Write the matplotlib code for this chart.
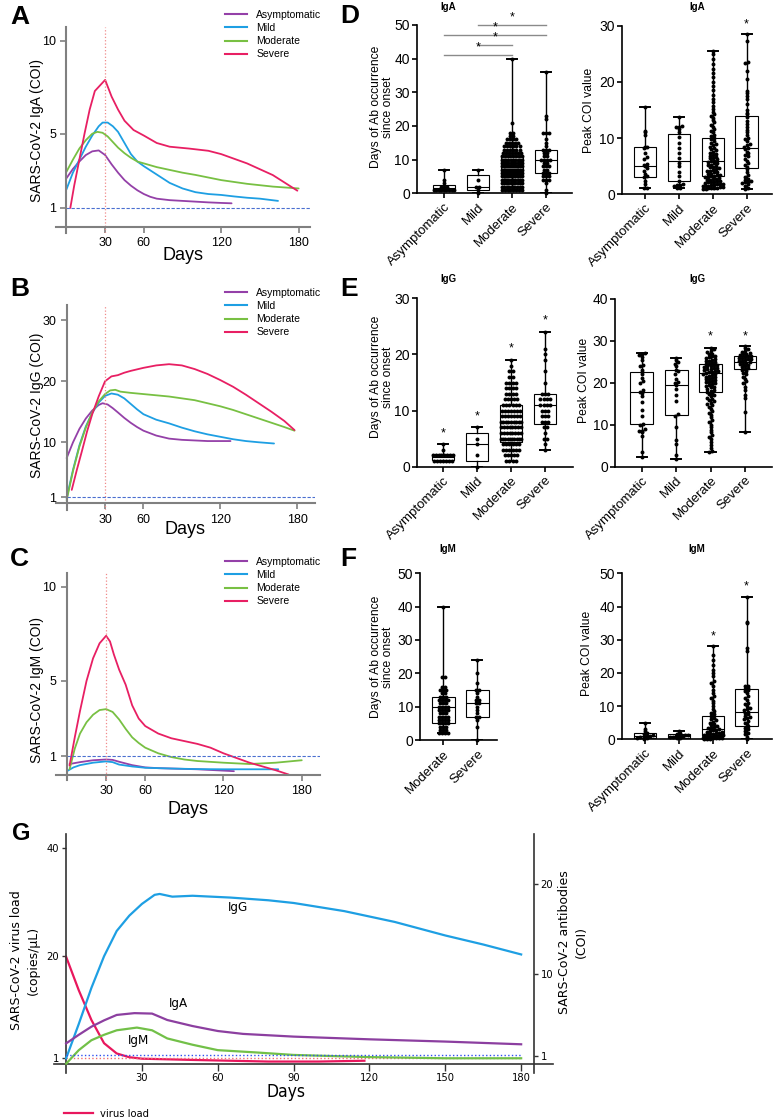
import numpy as np
import matplotlib.pyplot as plt
from matplotlib.lines import Line2D

W, H = 773, 1119
plt.rcParams['font.family'] = ['Liberation Sans', 'DejaVu Sans']

groups = ['Asymptomatic', 'Mild', 'Moderate', 'Severe']
colors = ['#9440a8', '#1e9fe3', '#78c043', '#e81f63']

# ---------------- A: IgA kinetics ----------------
iga_asym_d = [0, 5, 10, 15, 20, 25, 30, 35, 40, 45, 50, 55, 60, 65, 70, 80, 90, 100, 110, 120, 128]
iga_asym_v = [2.6, 3.1, 3.5, 3.85, 4.05, 4.1, 3.85, 3.35, 2.9, 2.5, 2.2, 1.95, 1.75, 1.6, 1.5, 1.42, 1.38, 1.34, 1.3, 1.27, 1.25]
iga_mild_d = [0, 5, 10, 15, 20, 25, 28, 32, 36, 40, 45, 50, 55, 60, 70, 80, 90, 100, 110, 120, 130, 140, 150, 164]
iga_mild_v = [2.0, 2.9, 3.6, 4.3, 4.9, 5.4, 5.6, 5.6, 5.4, 5.1, 4.5, 3.9, 3.5, 3.25, 2.8, 2.35, 2.05, 1.85, 1.75, 1.7, 1.62, 1.55, 1.5, 1.38]
iga_mod_d = [0, 5, 10, 15, 20, 24, 28, 32, 36, 40, 45, 50, 55, 60, 70, 80, 90, 100, 120, 140, 160, 180]
iga_mod_v = [2.95, 3.6, 4.2, 4.65, 5.0, 5.1, 5.05, 4.85, 4.55, 4.25, 3.95, 3.7, 3.5, 3.4, 3.2, 3.05, 2.9, 2.78, 2.5, 2.3, 2.15, 2.05]
iga_sev_d = [3, 6, 10, 14, 18, 22, 26, 30, 35, 40, 45, 52, 60, 70, 80, 95, 110, 120, 140, 160, 179]
iga_sev_v = [1.0, 2.2, 3.6, 5.0, 6.3, 7.3, 7.6, 7.9, 7.0, 6.3, 5.7, 5.2, 4.9, 4.5, 4.3, 4.2, 4.08, 3.9, 3.4, 2.77, 1.93]

# ---------------- B: IgG kinetics ----------------
igg_asym_d = [0, 5, 10, 15, 20, 25, 28, 32, 36, 40, 45, 50, 55, 60, 70, 80, 90, 100, 110, 128]
igg_asym_v = [7.4, 10.0, 12.2, 13.9, 15.2, 16.1, 16.4, 16.2, 15.6, 14.9, 14.0, 13.2, 12.5, 11.9, 11.1, 10.6, 10.4, 10.3, 10.2, 10.2]
igg_mild_d = [0, 5, 10, 15, 20, 25, 30, 35, 40, 45, 50, 55, 60, 70, 80, 90, 100, 110, 120, 130, 140, 150, 162]
igg_mild_v = [0.8, 5.5, 9.5, 12.6, 14.8, 16.5, 17.6, 18.0, 17.8, 17.2, 16.3, 15.4, 14.6, 13.7, 13.1, 12.4, 11.8, 11.3, 10.9, 10.5, 10.2, 10.0, 9.8]
igg_mod_d = [0, 5, 10, 15, 20, 25, 30, 34, 38, 42, 50, 60, 70, 80, 90, 100, 110, 120, 130, 140, 150, 160, 170, 178]
igg_mod_v = [0.5, 5.3, 9.3, 12.4, 14.9, 16.7, 17.9, 18.5, 18.6, 18.3, 18.1, 17.9, 17.7, 17.5, 17.2, 16.9, 16.4, 15.9, 15.3, 14.6, 13.9, 13.2, 12.5, 11.9]
igg_sev_d = [4, 8, 12, 16, 20, 25, 30, 35, 40, 45, 50, 60, 70, 80, 90, 100, 110, 120, 130, 140, 150, 160, 170, 178]
igg_sev_v = [2.2, 5.5, 8.6, 11.8, 14.6, 17.5, 20.0, 20.8, 21.0, 21.4, 21.7, 22.2, 22.6, 22.8, 22.6, 22.0, 21.2, 20.2, 19.1, 17.8, 16.4, 15.0, 13.5, 12.0]

# ---------------- C: IgM kinetics ----------------
igm_asym_d = [2, 10, 20, 30, 35, 40, 50, 60, 70, 80, 100, 128]
igm_asym_v = [0.58, 0.68, 0.78, 0.82, 0.8, 0.7, 0.52, 0.4, 0.36, 0.34, 0.3, 0.2]
igm_mild_d = [0, 5, 10, 20, 30, 35, 40, 50, 60, 80, 100, 120, 140, 162]
igm_mild_v = [0.2, 0.4, 0.52, 0.65, 0.72, 0.68, 0.55, 0.45, 0.38, 0.34, 0.31, 0.3, 0.3, 0.3]
igm_mod_d = [2, 6, 10, 15, 20, 25, 30, 35, 40, 45, 50, 55, 60, 70, 80, 90, 100, 120, 140, 160, 180]
igm_mod_v = [0.3, 1.4, 2.2, 2.8, 3.2, 3.45, 3.5, 3.35, 2.95, 2.45, 2.0, 1.7, 1.45, 1.15, 0.95, 0.82, 0.74, 0.65, 0.58, 0.65, 0.78]
igm_sev_d = [2, 6, 10, 15, 20, 25, 30, 33, 36, 40, 45, 50, 55, 60, 70, 80, 90, 100, 110, 120, 130, 140, 150, 160, 170]
igm_sev_v = [0.5, 2.0, 3.4, 5.0, 6.2, 7.0, 7.4, 7.1, 6.4, 5.6, 4.8, 3.7, 3.0, 2.6, 2.2, 1.95, 1.8, 1.65, 1.45, 1.15, 0.9, 0.65, 0.45, 0.25, 0.02]

# ---------------- D-F: box plot data ----------------
# stats = (min, q1, median, q3, max)
d_days_stats = [(1, 1, 1.5, 2.5, 7), (0, 1, 2, 5.3, 7), (1, 5, 7, 11, 40), (0, 6, 10, 13, 36)]
d_days_asym = np.repeat([1, 2, 3, 4, 7], [9, 3, 1, 1, 1])
d_days_mild = np.repeat([0, 1, 2, 4, 7], [1, 1, 2, 1, 1])
d_days_mod = np.repeat([1, 2, 3, 4, 5, 6, 7, 8, 9, 10, 11, 12, 13, 14, 15, 16, 17, 18, 21, 40],
                       [8, 9, 10, 10, 12, 12, 12, 11, 10, 10, 8, 7, 6, 6, 5, 4, 2, 2, 1, 1])
d_days_sev = np.repeat([0, 1, 3, 4, 5, 6, 7, 8, 9, 10, 11, 12, 13, 14, 15, 16, 18, 22, 23, 36],
                       [1, 1, 1, 3, 3, 3, 2, 3, 2, 4, 2, 2, 3, 1, 1, 1, 3, 1, 1, 1])
d_bracket_pairs = [(0, 2), (1, 2), (0, 3), (1, 3)]
d_bracket_y = [41, 44, 47, 50]

d_peak_stats = [(1.1, 3, 5.1, 8.4, 15.6), (1.1, 2.3, 6, 10.8, 13.8), (1, 3.2, 6, 10, 25.5), (1, 4.6, 8.2, 14, 28.5)]
d_peak_asym = [1.1, 1.2, 1.9, 2.4, 3.0, 3.3, 3.6, 4.2, 4.6, 5.0, 5.2, 5.4, 6.3, 6.6, 7.3, 8.3, 8.4, 8.5, 10.6, 11.0, 11.3, 15.6]
d_peak_mild = [1.1, 1.2, 1.5, 1.6, 1.7, 1.9, 2.3, 3.3, 4.0, 5.1, 5.6, 6.5, 7.3, 8.2, 9.2, 10.2, 11.0, 11.6, 11.9, 12.0, 12.1, 13.8]
d_peak_mod = [1.0, 1.0, 1.1, 1.1, 1.2, 1.2, 1.3, 1.3, 1.4, 1.5, 1.5, 1.6, 1.7, 1.8, 1.8, 1.9, 2.0, 2.1, 2.2, 2.2,
              2.3, 2.4, 2.5, 2.6, 2.7, 2.8, 2.9, 3.0, 3.1, 3.2, 3.3, 3.4, 3.5, 3.6, 3.7, 3.9, 4.0, 4.1, 4.2, 4.4,
              4.5, 4.6, 4.8, 4.9, 5.0, 5.2, 5.3, 5.5, 5.6, 5.8, 5.9, 6.0, 6.2, 6.4, 6.5, 6.7, 6.9, 7.0, 7.2, 7.4,
              7.6, 7.8, 8.0, 8.2, 8.5, 8.7, 9.0, 9.2, 9.5, 9.8, 10.0, 10.3, 10.6, 11.0, 11.3, 11.7, 12.0, 12.4,
              12.8, 13.2, 13.6, 14.0, 14.3, 14.7, 15.2, 15.8, 16.4, 17.0, 17.7, 18.5, 19.2, 20.0, 20.8, 21.5,
              22.3, 23.2, 24.0, 25.0, 25.5]
d_peak_sev = [1.0, 1.2, 1.5, 1.8, 2.0, 2.1, 2.2, 2.3, 2.5, 2.8, 3.0, 3.5, 4.0, 4.5, 4.8, 5.2, 5.5, 6.0, 6.3, 6.8,
              7.0, 7.3, 7.6, 8.0, 8.2, 8.5, 8.8, 9.0, 9.5, 9.8, 10.0, 10.5, 11.0, 11.5, 12.0, 12.5, 13.0, 13.8,
              14.2, 14.5, 15.0, 16.0, 17.0, 17.5, 18.0, 18.3, 20.5, 22.0, 23.3, 23.6, 27.2, 28.5]

e_days_stats = [(1, 1.2, 1.8, 2.2, 4), (0, 1.1, 4, 6, 7), (1, 4.4, 7, 11, 19), (3, 7.6, 11, 13, 24)]
e_days_asym = np.repeat([1, 2, 3, 4], [7, 8, 1, 1])
e_days_mild = np.repeat([0, 2, 4, 5, 7], [1, 1, 1, 1, 1])
e_days_mod = np.repeat(list(range(1, 20)), [4, 5, 6, 6, 10, 8, 8, 9, 7, 7, 6, 5, 4, 4, 4, 2, 2, 1, 1])
e_days_sev = np.repeat([3, 4, 5, 6, 7, 8, 9, 10, 11, 12, 13, 15, 17, 19, 20, 21, 24],
                       [1, 1, 2, 1, 2, 3, 3, 3, 4, 4, 3, 1, 1, 1, 1, 1, 1])
e_days_stars = [6, 9, 21, 26]

e_peak_stats = [(2.4, 10.1, 17.8, 22.7, 27.2), (1.9, 12.4, 19.6, 23.1, 25.9), (3.5, 17.8, 22.3, 24.4, 28.3), (8.2, 23.2, 25, 26.5, 28.8)]
e_peak_asym = [2.4, 3.6, 7.3, 8.2, 8.4, 8.6, 9.0, 10.0, 10.2, 12.0, 13.5, 15.5, 16.8, 17.6, 17.9, 18.3, 20.0, 20.4,
               21.2, 22.0, 22.7, 23.0, 24.0, 24.3, 25.4, 26.1, 26.6, 27.0, 27.2]
e_peak_mild = [1.9, 2.7, 5.5, 6.3, 9.5, 12.2, 12.6, 15.7, 17.0, 18.5, 19.6, 20.0, 20.2, 21.0, 22.2, 22.8, 23.1, 24.0,
               24.5, 25.0, 25.5, 25.9]
e_peak_mod = [3.5, 3.8, 4.5, 5.2, 5.8, 6.5, 7.0, 7.6, 8.2, 8.8, 9.5, 10.0, 10.6, 11.2, 11.8, 12.3, 12.8, 13.3, 13.8,
              14.2, 14.6, 15.0, 15.3, 15.6, 15.9, 16.2, 16.5, 16.8, 17.0, 17.3, 17.6, 17.9, 18.1, 18.4, 18.6, 18.9,
              19.1, 19.3, 19.5, 19.7, 19.9, 20.1, 20.3, 20.5, 20.7, 20.9, 21.0, 21.2, 21.4, 21.5, 21.7, 21.9, 22.0,
              22.2, 22.3, 22.5, 22.6, 22.8, 22.9, 23.0, 23.2, 23.3, 23.5, 23.6, 23.8, 23.9, 24.0, 24.2, 24.3, 24.5,
              24.6, 24.8, 25.0, 25.1, 25.3, 25.5, 25.7, 25.9, 26.1, 26.3, 26.5, 26.8, 27.0, 27.3, 27.6, 28.0, 28.3]
e_peak_sev = [8.2, 13.1, 16.3, 17.0, 18.2, 19.0, 20.0, 20.5, 21.0, 21.5, 22.0, 22.3, 22.8, 23.0, 23.3, 23.5, 23.8,
              24.0, 24.2, 24.4, 24.6, 24.8, 25.0, 25.1, 25.3, 25.4, 25.6, 25.7, 25.9, 26.0, 26.2, 26.3, 26.5, 26.6,
              26.8, 27.0, 27.2, 27.4, 27.7, 28.0, 28.4, 28.8]
e_peak_stars = [None, None, 31, 31]

f_days_groups = ['Moderate', 'Severe']
f_days_stats = [(2, 5, 10, 13, 40), (0, 7, 11, 15, 24)]
f_days_mod = np.repeat([2, 3, 4, 5, 6, 7, 8, 9, 10, 11, 12, 13, 14, 15, 16, 19, 40],
                       [4, 3, 3, 4, 4, 4, 3, 4, 4, 3, 4, 3, 2, 3, 2, 2, 1])
f_days_sev = np.repeat([0, 4, 6, 7, 8, 9, 10, 11, 12, 13, 14, 15, 17, 20, 24],
                       [1, 1, 1, 2, 1, 1, 1, 2, 2, 1, 1, 2, 1, 1, 1])

f_peak_stats = [(0.2, 0.5, 1, 1.8, 4.8), (0.3, 0.5, 1, 1.5, 2.6), (0.1, 0.9, 3.2, 7, 28), (0.2, 3.9, 8.3, 15.2, 43)]
f_peak_asym = [0.2, 0.3, 0.5, 0.6, 0.8, 1.0, 1.1, 1.3, 1.5, 1.8, 2.5, 3.2, 4.8]
f_peak_mild = [0.3, 0.4, 0.6, 0.8, 0.9, 1.0, 1.1, 1.2, 1.3, 1.5, 2.0, 2.6]
f_peak_mod = [0.1, 0.2, 0.2, 0.3, 0.3, 0.4, 0.4, 0.5, 0.5, 0.6, 0.6, 0.7, 0.8, 0.8, 0.9, 1.0, 1.0, 1.1, 1.2, 1.3,
              1.4, 1.5, 1.6, 1.7, 1.8, 2.0, 2.1, 2.3, 2.5, 2.7, 2.9, 3.1, 3.3, 3.5, 3.8, 4.0, 4.3, 4.6, 5.0, 5.3,
              5.7, 6.0, 6.5, 7.0, 7.5, 8.0, 8.6, 9.2, 10.0, 10.8, 11.5, 12.3, 13.0, 14.0, 15.0, 16.0, 17.0, 17.5,
              19.0, 20.0, 21.0, 22.5, 24.0, 25.5, 28.0]
f_peak_sev = [0.2, 0.8, 1.5, 2.0, 2.5, 3.0, 3.3, 3.9, 4.5, 5.0, 5.5, 6.0, 6.3, 6.8, 7.0, 7.5, 8.0, 8.3, 8.7, 9.0,
              9.5, 10.0, 10.5, 11.0, 11.8, 12.5, 13.0, 14.0, 14.5, 15.0, 15.2, 15.5, 16.0, 16.2, 26.5, 27.5, 35.0,
              35.2, 43.0]
f_peak_stars = [None, None, 31, 46]

# ---------------- G: overall kinetics ----------------
g_igg_d = [0, 5, 10, 15, 20, 25, 30, 35, 37, 42, 50, 65, 80, 90, 110, 130, 150, 165, 180]
g_igg_v = [0.7, 4.5, 8.5, 12.0, 14.8, 16.5, 17.8, 18.8, 18.9, 18.6, 18.7, 18.5, 18.2, 17.9, 17.0, 15.8, 14.3, 13.3, 12.2]
g_iga_d = [0, 5, 10, 15, 20, 27, 34, 40, 50, 60, 70, 90, 120, 150, 180]
g_iga_v = [2.35, 3.3, 4.2, 4.9, 5.5, 5.7, 5.65, 4.94, 4.27, 3.72, 3.4, 3.1, 2.8, 2.55, 2.25]
g_igm_d = [0, 5, 10, 15, 20, 28, 34, 40, 50, 60, 75, 90, 120, 150, 180]
g_igm_v = [0.1, 1.6, 2.7, 3.3, 3.8, 4.1, 3.8, 2.9, 2.2, 1.6, 1.35, 1.07, 0.83, 0.7, 0.7]
g_virus_d = [0, 5, 10, 15, 20, 25, 30, 50, 80, 100, 118]
g_virus_v = [19.8, 13.6, 8.1, 3.8, 1.9, 1.2, 0.93, 0.7, 0.4, 0.4, 0.55]

fig = plt.figure(figsize=(W / 100, H / 100), dpi=100)


def add_ax(x0, y0, x1, y1):
    return fig.add_axes([x0 / W, 1 - y1 / H, (x1 - x0) / W, (y1 - y0) / H])


def kinetics(ax, curves, xlim, ylim, yticks):
    for (d, v), c in zip(curves, colors):
        ax.plot(d, v, color=c, lw=1.3, solid_capstyle='round')
    ax.set_xlim(xlim)
    ax.set_ylim(ylim)
    ax.axvline(30, color='#f08a8a', ls=':', lw=0.9)
    x0 = (0 - xlim[0]) / (xlim[1] - xlim[0])
    ax.axhline(1, xmin=x0, color='#4a6fd0', ls='--', lw=0.8, dashes=(3, 1.5))
    for s in ['top', 'right']:
        ax.spines[s].set_visible(False)
    ax.spines['left'].set_position(('data', 0))
    ax.spines['bottom'].set_position(('data', 0))
    for s in ['left', 'bottom']:
        ax.spines[s].set_color('#808080')
        ax.spines[s].set_linewidth(1.5)
    ax.set_xticks([30, 60, 120, 180])
    ax.set_yticks(yticks)
    ax.tick_params(direction='out', length=4, width=1.2, color='#808080', labelsize=9, labelcolor='black')


def spread(vals, binsz, w=0.3):
    vals = np.sort(np.asarray(vals, float))
    bins = np.round(vals / binsz).astype(int)
    xs = np.zeros(len(vals))
    for b in np.unique(bins):
        idx = np.where(bins == b)[0]
        n = len(idx)
        dx = min(0.09, 2 * w / max(n - 1, 1))
        xs[idx] = (np.arange(n) - (n - 1) / 2) * dx
    return xs, vals


def box_panel(ax, labels, stats, points, top, xlim, stars=None):
    pos = np.arange(len(labels))
    bstats = [dict(whislo=s[0], q1=s[1], med=s[2], q3=s[3], whishi=s[4]) for s in stats]
    ax.bxp(bstats, positions=pos, widths=0.66, showfliers=False, patch_artist=True,
           boxprops=dict(facecolor='white', edgecolor='black', linewidth=0.8),
           medianprops=dict(color='black', linewidth=0.8),
           whiskerprops=dict(color='black', linewidth=1.0),
           capprops=dict(color='black', linewidth=1.4), capwidths=0.3)
    for p, vals in zip(pos, points):
        xs, ys = spread(vals, top / 55)
        ax.scatter(p + xs, ys, s=8, c='black', zorder=3, clip_on=False, linewidths=0)
    if stars:
        for p, y in zip(pos, stars):
            if y is not None:
                ax.text(p, y, '*', ha='center', va='center', fontsize=9)
    ax.set_xlim(xlim)
    ax.set_ylim(0, top)
    ax.set_yticks(np.arange(0, top + 1, 10))
    ax.set_xticks(pos)
    ax.set_xticklabels(labels, rotation=45, ha='right', rotation_mode='anchor')
    for s in ['top', 'right']:
        ax.spines[s].set_visible(False)
    for s in ['left', 'bottom']:
        ax.spines[s].set_linewidth(1.2)
    ax.tick_params(direction='out', length=3.5, width=1.2, labelsize=10, pad=1.5)
    ax.tick_params(axis='x', labelsize=9.5, pad=2)
    ax.patch.set_alpha(0)


# ----- A -----
axA = add_ax(56, 27, 310, 233)
kinetics(axA, [(iga_asym_d, iga_asym_v), (iga_mild_d, iga_mild_v), (iga_mod_d, iga_mod_v), (iga_sev_d, iga_sev_v)],
         (-8.1, 188.8), (-0.35, 10.75), [1, 5, 10])
fig.text(37 / W, 1 - 130 / H, 'SARS-CoV-2 IgA (COI)', rotation=90, ha='center', va='center', fontsize=10)
fig.text(183 / W, 1 - 255 / H, 'Days', ha='center', va='center', fontsize=13)

# ----- B -----
axB = add_ax(56, 305, 315, 510)
kinetics(axB, [(igg_asym_d, igg_asym_v), (igg_mild_d, igg_mild_v), (igg_mod_d, igg_mod_v), (igg_sev_d, igg_sev_v)],
         (-8.3, 194), (-1.1, 32.5), [1, 10, 20, 30])
fig.text(37 / W, 1 - 405 / H, 'SARS-CoV-2 IgG (COI)', rotation=90, ha='center', va='center', fontsize=10)
fig.text(185 / W, 1 - 529 / H, 'Days', ha='center', va='center', fontsize=13)

# ----- C -----
axC = add_ax(56, 573, 320, 780)
kinetics(axC, [(igm_asym_d, igm_asym_v), (igm_mild_d, igm_mild_v), (igm_mod_d, igm_mod_v), (igm_sev_d, igm_sev_v)],
         (-8.4, 194), (-0.27, 10.74), [1, 5, 10])
fig.text(37 / W, 1 - 690 / H, 'SARS-CoV-2 IgM (COI)', rotation=90, ha='center', va='center', fontsize=10)
fig.text(188 / W, 1 - 809 / H, 'Days', ha='center', va='center', fontsize=13)

handles = [Line2D([], [], color=c, lw=1.5) for c in colors]
for ytop in [10, 288, 557]:
    fig.legend(handles, groups, loc='upper left', bbox_to_anchor=(225 / W, 1 - ytop / H), frameon=False,
               fontsize=7.5, handlelength=2.1, handletextpad=0.9, labelspacing=0.3, borderpad=0, borderaxespad=0)

# ----- D -----
axD1 = add_ax(416.7, 25, 571.7, 193.3)
box_panel(axD1, groups, d_days_stats, [d_days_asym, d_days_mild, d_days_mod, d_days_sev], 50, (-0.8, 3.76))
for (a, b), y in zip(d_bracket_pairs, d_bracket_y):
    axD1.plot([a, b], [y, y], color='#8a8a8a', lw=1.0, clip_on=False)
    axD1.text((a + b) / 2, y + 0.6, '*', ha='center', va='bottom', fontsize=9)
axD2 = add_ax(621.7, 25.7, 771.7, 194.3)
box_panel(axD2, groups, d_peak_stats, [d_peak_asym, d_peak_mild, d_peak_mod, d_peak_sev], 30, (-0.69, 3.74),
          [None, None, None, 30.3])

# ----- E -----
axE1 = add_ax(416.7, 298.3, 573, 466.7)
box_panel(axE1, groups, e_days_stats, [e_days_asym, e_days_mild, e_days_mod, e_days_sev], 30, (-0.77, 3.82),
          e_days_stars)
axE2 = add_ax(615, 299, 771.7, 466.7)
box_panel(axE2, groups, e_peak_stats, [e_peak_asym, e_peak_mild, e_peak_mod, e_peak_sev], 40, (-0.78, 3.78),
          e_peak_stars)

# ----- F -----
axF1 = add_ax(420, 573.3, 496.7, 740)
box_panel(axF1, f_days_groups, f_days_stats, [f_days_mod, f_days_sev], 50, (-0.69, 1.57))
axF2 = add_ax(621.7, 573.3, 771.7, 739.3)
box_panel(axF2, groups, f_peak_stats, [f_peak_asym, f_peak_mild, f_peak_mod, f_peak_sev], 50, (-0.69, 3.74),
          f_peak_stars)

for y, t in [(7, 'IgA'), (279, 'IgG'), (549, 'IgM')]:
    fig.text(448 / W, 1 - y / H, t, ha='center', va='center', fontsize=7, fontweight='bold')
    fig.text(697 / W, 1 - y / H, t, ha='center', va='center', fontsize=7, fontweight='bold')
for y in [107, 377, 657]:
    fig.text(382 / W, 1 - y / H, 'Days of Ab occurrence\nsince onset', rotation=90, ha='center', va='center',
             fontsize=8.7, linespacing=1.1)
for x, y in [(589, 110), (584, 380), (587, 653)]:
    fig.text(x / W, 1 - y / H, 'Peak COI value', rotation=90, ha='center', va='center', fontsize=8.7)

# ----- G -----
narrow = dict(family='DejaVu Sans', stretch='condensed')
axG = add_ax(54, 834, 552.5, 1073)
axR = axG.twinx()
axG.plot(g_virus_d, g_virus_v, color='#e8175d', lw=1.6)
axR.plot(g_igg_d, g_igg_v, color='#1e9fe3', lw=1.6)
axR.plot(g_iga_d, g_iga_v, color='#8c3fa0', lw=1.6)
axR.plot(g_igm_d, g_igm_v, color='#72c048', lw=1.6)
axG.set_xlim(-4.8, 192.4)
axG.set_ylim(-1.72, 42.54)
axR.set_ylim(-0.93, 25.54)
x0 = 4.8 / 197.2
x180 = 184.8 / 197.2
axG.axhline(1, xmin=x0, xmax=x180, color='#f07070', ls=':', lw=1.0)
axR.axhline(1.1, xmin=x0, xmax=x180, color='#3050f0', ls=':', lw=1.0)
axR.text(67.8, 17.4, 'IgG', ha='center', va='center', fontsize=9.5, **narrow)
axR.text(44.6, 6.8, 'IgA', ha='center', va='center', fontsize=9.5, **narrow)
axR.text(28.8, 2.7, 'IgM', ha='center', va='center', fontsize=9.5, **narrow)
for s in ['top', 'right']:
    axG.spines[s].set_visible(False)
for s in ['top', 'left', 'bottom']:
    axR.spines[s].set_visible(False)
axG.spines['left'].set_position(('data', 0))
axG.spines['bottom'].set_position(('data', 0))
axR.spines['right'].set_position(('data', 185))
for sp in [axG.spines['left'], axG.spines['bottom'], axR.spines['right']]:
    sp.set_color('#333333')
    sp.set_linewidth(1.2)
axG.set_xticks([30, 60, 90, 120, 150, 180])
axG.set_yticks([1, 20, 40])
axR.set_yticks([1, 10, 20])
for a in [axG, axR]:
    a.tick_params(direction='out', length=3, width=1.0, color='#333333', labelsize=8, pad=2)
    for lab in a.get_xticklabels() + a.get_yticklabels():
        lab.set_family('DejaVu Sans')
        lab.set_stretch('condensed')
axG.tick_params(axis='x', length=5, pad=1.5)
fig.text(25 / W, 1 - 960 / H, 'SARS-CoV-2 virus load\n(copies/\u03bcL)', rotation=90, ha='center', va='center',
         fontsize=9, family='DejaVu Sans', linespacing=1.3)
fig.text(573 / W, 1 - 942 / H, 'SARS-CoV-2 antibodies\n(COI)', rotation=90, ha='center', va='center',
         fontsize=9, family='DejaVu Sans', linespacing=1.3)
fig.text(286 / W, 1 - 1092 / H, 'Days', ha='center', va='center', fontsize=12.5, **narrow)
fig.legend([Line2D([], [], color='#e8175d', lw=1.6)], ['virus load'], loc='center left',
           bbox_to_anchor=(64 / W, 1 - 1114 / H), frameon=False, handlelength=2.6,
           handletextpad=0.6, borderpad=0, borderaxespad=0,
           prop=dict(family='DejaVu Sans', stretch='condensed', size=8))

# panel letters
for x, y, t, fs in [(10, 17, 'A', 19), (10, 289, 'B', 19), (10, 559, 'C', 19), (340, 16, 'D', 19),
                    (340, 289, 'E', 19), (340, 559, 'F', 19), (12, 834, 'G', 17)]:
    fig.text(x / W, 1 - y / H, t, ha='left', va='center', fontsize=fs, fontweight='bold')

fig.savefig('out.png', dpi=100)
